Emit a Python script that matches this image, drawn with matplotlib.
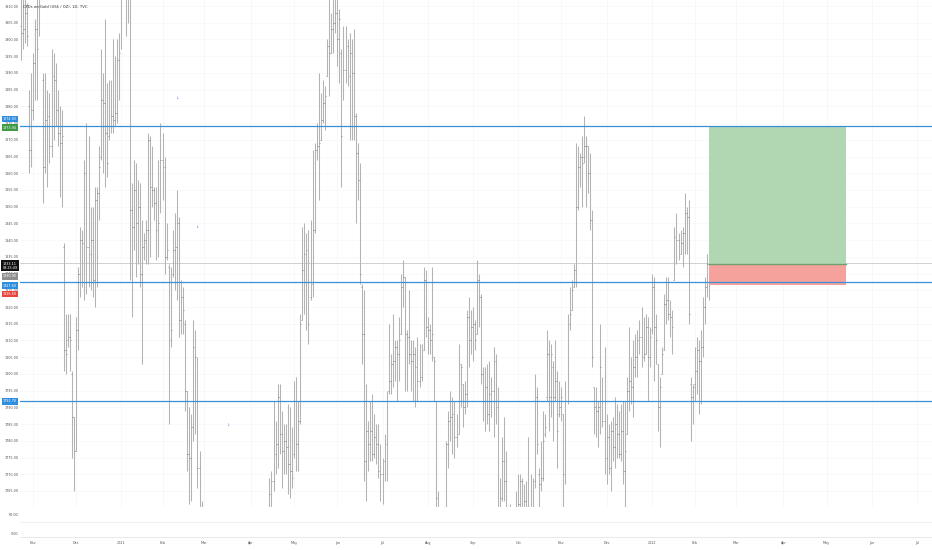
import numpy as np
import pandas as pd
import matplotlib
matplotlib.use("Agg")
import matplotlib.pyplot as plt
from matplotlib.collections import LineCollection
from matplotlib.patches import Rectangle

# -----------------------------
# daily bars (open, high, low, close)
# -----------------------------
oct20 = [(1904, 1916, 1894, 1902), (1902, 1914, 1897, 1903), (1903, 1912, 1899, 1908),
         (1908, 1911, 1898, 1901), (1880, 1885, 1860, 1867), (1867, 1890, 1862, 1879)]
nov20 = [(1879, 1896, 1876, 1893), (1893, 1906, 1882, 1903), (1903, 1915, 1882, 1897),
         (1910, 1950, 1901, 1947), (1947, 1965, 1936, 1951), (1888, 1890, 1851, 1862),
         (1862, 1890, 1860, 1876), (1876, 1885, 1856, 1877), (1877, 1884, 1863, 1868),
         (1868, 1897, 1865, 1889), (1889, 1896, 1870, 1888), (1888, 1893, 1874, 1879),
         (1879, 1885, 1868, 1872), (1872, 1880, 1853, 1869), (1869, 1879, 1850, 1871),
         (1838, 1839, 1801, 1807), (1807, 1818, 1800, 1806), (1810, 1818, 1808, 1811),
         (1811, 1818, 1801, 1810), (1800, 1801, 1775, 1787), (1787, 1787, 1765, 1777)]
dec20 = [(1777, 1817, 1777, 1813), (1813, 1832, 1807, 1830), (1830, 1844, 1823, 1840),
         (1840, 1843, 1826, 1839), (1839, 1864, 1822, 1860), (1860, 1875, 1824, 1838),
         (1838, 1871, 1826, 1836), (1836, 1850, 1825, 1840), (1840, 1850, 1823, 1828),
         (1828, 1856, 1820, 1852), (1852, 1856, 1826, 1854), (1854, 1868, 1846, 1862),
         (1865, 1897, 1864, 1882), (1882, 1890, 1860, 1881), (1881, 1906, 1856, 1872),
         (1872, 1887, 1859, 1863), (1871, 1888, 1870, 1874), (1874, 1888, 1872, 1877),
         (1877, 1900, 1872, 1876), (1876, 1895, 1874, 1878), (1878, 1900, 1875, 1894),
         (1894, 1902, 1882, 1896)]
jan21 = [(1898, 1945, 1897, 1942), (1942, 1952, 1935, 1949), (1949, 1959, 1901, 1918),
         (1918, 1926, 1905, 1913), (1913, 1917, 1828, 1849), (1849, 1857, 1817, 1844),
         (1844, 1864, 1837, 1855), (1855, 1863, 1829, 1845), (1845, 1858, 1833, 1850),
         (1850, 1857, 1826, 1830), (1830, 1846, 1803, 1838), (1838, 1842, 1834, 1840),
         (1840, 1846, 1833, 1843), (1843, 1872, 1833, 1870), (1870, 1871, 1835, 1856),
         (1856, 1868, 1850, 1855), (1855, 1856, 1846, 1851), (1851, 1856, 1834, 1843),
         (1843, 1864, 1835, 1845), (1850, 1875, 1848, 1864)]
feb21 = [(1864, 1872, 1852, 1862), (1862, 1865, 1830, 1835), (1835, 1845, 1834, 1837),
         (1832, 1833, 1785, 1792), (1810, 1832, 1808, 1813), (1830, 1843, 1829, 1837),
         (1837, 1848, 1825, 1838), (1838, 1855, 1822, 1845), (1845, 1847, 1811, 1816),
         (1816, 1828, 1812, 1823), (1823, 1826, 1812, 1819), (1815, 1816, 1789, 1795),
         (1795, 1795, 1771, 1776), (1776, 1790, 1761, 1775), (1775, 1788, 1762, 1784),
         (1784, 1816, 1780, 1808), (1808, 1813, 1782, 1805), (1797, 1805, 1766, 1772),
         (1772, 1777, 1750, 1757), (1757, 1762, 1717, 1734)]
mar21 = [(1734, 1760, 1718, 1723), (1723, 1740, 1705, 1737), (1737, 1739, 1709, 1715),
         (1715, 1725, 1697, 1699), (1699, 1709, 1687, 1700), (1700, 1709, 1676, 1683),
         (1683, 1718, 1683, 1716), (1716, 1724, 1705, 1715), (1715, 1739, 1712, 1722),
         (1722, 1728, 1699, 1719), (1719, 1733, 1715, 1731), (1731, 1741, 1723, 1731),
         (1731, 1755, 1720, 1745), (1745, 1755, 1728, 1735), (1735, 1747, 1726, 1745),
         (1745, 1745, 1727, 1739), (1739, 1745, 1720, 1727), (1727, 1738, 1722, 1734),
         (1734, 1737, 1719, 1725), (1725, 1737, 1720, 1732), (1732, 1733, 1704, 1711),
         (1711, 1712, 1677, 1684), (1684, 1715, 1678, 1708)]
apr21 = [(1708, 1733, 1705, 1728), (1728, 1740, 1720, 1729), (1729, 1745, 1726, 1743),
         (1743, 1749, 1733, 1737), (1737, 1758, 1735, 1755), (1755, 1756, 1732, 1744),
         (1744, 1746, 1726, 1732), (1732, 1748, 1728, 1746), (1746, 1749, 1735, 1736),
         (1736, 1769, 1735, 1764), (1764, 1771, 1758, 1768), (1768, 1792, 1765, 1776),
         (1776, 1786, 1770, 1779), (1779, 1797, 1772, 1793), (1793, 1797, 1776, 1782),
         (1782, 1789, 1766, 1777), (1777, 1785, 1770, 1780), (1780, 1785, 1770, 1778),
         (1778, 1791, 1764, 1773), (1773, 1790, 1763, 1771), (1771, 1784, 1766, 1769)]
may21 = [(1776, 1798, 1775, 1792), (1792, 1799, 1771, 1779), (1779, 1792, 1771, 1786),
         (1786, 1818, 1785, 1815), (1816, 1844, 1816, 1831), (1831, 1845, 1818, 1836),
         (1836, 1842, 1813, 1837), (1837, 1843, 1809, 1815), (1823, 1846, 1822, 1827),
         (1827, 1867, 1823, 1843), (1843, 1869, 1842, 1867), (1867, 1875, 1864, 1868),
         (1868, 1890, 1852, 1869), (1870, 1884, 1870, 1876), (1876, 1888, 1875, 1881),
         (1881, 1886, 1873, 1883), (1889, 1900, 1889, 1898), (1898, 1913, 1883, 1896),
         (1896, 1908, 1896, 1903), (1903, 1912, 1896, 1905), (1905, 1916, 1902, 1908)]
jun21 = [(1908, 1916, 1892, 1900), (1900, 1909, 1887, 1906), (1896, 1897, 1856, 1871),
         (1882, 1904, 1882, 1891), (1891, 1904, 1887, 1898), (1898, 1900, 1886, 1889),
         (1889, 1902, 1870, 1896), (1896, 1900, 1870, 1890), (1890, 1903, 1870, 1877),
         (1877, 1878, 1845, 1866), (1866, 1869, 1852, 1858), (1858, 1863, 1827, 1830),
         (1826, 1827, 1803, 1812), (1812, 1825, 1768, 1774), (1774, 1797, 1762, 1783),
         (1783, 1786, 1771, 1779), (1779, 1792, 1774, 1783), (1783, 1794, 1774, 1776),
         (1776, 1788, 1775, 1781), (1781, 1785, 1773, 1779), (1779, 1785, 1769, 1771),
         (1771, 1779, 1762, 1770)]
jul21 = [(1770, 1775, 1761, 1774), (1774, 1782, 1768, 1779), (1779, 1795, 1768, 1792),
         (1795, 1815, 1794, 1798), (1798, 1806, 1794, 1803), (1803, 1818, 1796, 1804),
         (1804, 1810, 1798, 1808), (1808, 1810, 1792, 1806), (1806, 1817, 1798, 1810),
         (1812, 1830, 1812, 1826), (1826, 1834, 1820, 1829), (1829, 1829, 1795, 1812),
         (1812, 1813, 1795, 1811), (1811, 1825, 1803, 1806), (1806, 1810, 1795, 1804),
         (1804, 1810, 1792, 1806), (1806, 1808, 1790, 1802), (1802, 1811, 1792, 1798),
         (1798, 1809, 1796, 1799), (1799, 1809, 1798, 1806), (1807, 1832, 1807, 1828),
         (1828, 1831, 1811, 1814)]
aug21 = [(1814, 1817, 1806, 1813), (1813, 1815, 1806, 1810), (1810, 1832, 1804, 1812),
         (1805, 1805, 1792, 1804), (1792, 1792, 1755, 1763), (1745, 1765, 1687, 1730),
         (1730, 1745, 1717, 1730), (1730, 1755, 1718, 1752), (1752, 1760, 1745, 1753),
         (1753, 1780, 1750, 1779), (1779, 1789, 1772, 1786), (1786, 1795, 1780, 1787),
         (1787, 1793, 1776, 1788), (1788, 1792, 1775, 1781), (1781, 1788, 1778, 1782),
         (1782, 1809, 1782, 1805), (1803, 1803, 1790, 1802), (1797, 1797, 1784, 1790),
         (1790, 1798, 1788, 1794), (1794, 1819, 1790, 1817), (1817, 1823, 1802, 1810),
         (1810, 1819, 1806, 1814)]
sep21 = [(1814, 1820, 1804, 1815), (1815, 1816, 1807, 1810), (1812, 1834, 1812, 1828),
         (1828, 1830, 1814, 1823), (1823, 1824, 1797, 1800), (1800, 1802, 1786, 1792),
         (1792, 1802, 1783, 1796), (1796, 1803, 1785, 1788), (1788, 1804, 1783, 1794),
         (1794, 1799, 1787, 1795), (1795, 1808, 1781, 1804), (1804, 1806, 1785, 1790),
         (1790, 1796, 1745, 1754), (1754, 1769, 1745, 1763), (1763, 1781, 1762, 1774),
         (1774, 1787, 1762, 1768), (1768, 1777, 1738, 1743), (1743, 1760, 1737, 1750),
         (1750, 1761, 1740, 1751), (1751, 1752, 1728, 1735), (1735, 1745, 1722, 1727),
         (1727, 1765, 1721, 1757)]
oct21 = [(1757, 1770, 1750, 1761), (1761, 1770, 1755, 1768), (1768, 1769, 1746, 1760),
         (1760, 1767, 1746, 1762), (1762, 1768, 1752, 1756), (1756, 1781, 1750, 1757),
         (1757, 1770, 1750, 1754), (1754, 1769, 1748, 1760), (1768, 1800, 1766, 1793),
         (1793, 1796, 1776, 1779), (1770, 1772, 1755, 1767), (1767, 1780, 1765, 1769),
         (1769, 1789, 1768, 1780), (1782, 1788, 1781, 1784), (1793, 1813, 1792, 1806),
         (1806, 1810, 1783, 1793), (1793, 1809, 1787, 1806), (1802, 1804, 1780, 1793),
         (1793, 1810, 1792, 1798), (1798, 1801, 1772, 1783), (1788, 1798, 1787, 1790)]
nov21 = [(1790, 1796, 1786, 1793), (1788, 1788, 1758, 1770), (1770, 1798, 1767, 1792),
         (1792, 1818, 1791, 1815), (1815, 1826, 1813, 1818), (1819, 1828, 1819, 1825),
         (1826, 1833, 1826, 1831), (1831, 1869, 1826, 1850), (1850, 1868, 1849, 1862),
         (1862, 1866, 1856, 1865), (1865, 1871, 1850, 1863), (1865, 1877, 1863, 1868),
         (1868, 1871, 1850, 1868), (1868, 1868, 1854, 1860), (1860, 1866, 1843, 1846),
         (1846, 1849, 1802, 1805), (1796, 1796, 1782, 1790), (1790, 1796, 1781, 1789),
         (1789, 1792, 1778, 1790), (1790, 1815, 1782, 1802), (1799, 1799, 1784, 1786),
         (1786, 1808, 1770, 1775)]
dec21 = [(1775, 1788, 1767, 1781), (1781, 1785, 1770, 1772), (1772, 1786, 1765, 1783),
         (1783, 1787, 1774, 1778), (1778, 1793, 1772, 1785), (1785, 1791, 1775, 1782),
         (1782, 1789, 1775, 1776), (1776, 1791, 1774, 1783), (1783, 1792, 1767, 1771),
         (1771, 1792, 1753, 1777), (1782, 1799, 1782, 1795), (1795, 1814, 1789, 1798),
         (1798, 1805, 1791, 1796), (1796, 1810, 1787, 1802), (1802, 1812, 1799, 1805),
         (1805, 1813, 1799, 1810), (1810, 1816, 1806, 1811), (1811, 1820, 1802, 1805),
         (1805, 1817, 1804, 1806), (1806, 1818, 1806, 1814), (1814, 1817, 1792, 1805),
         (1805, 1814, 1802, 1811)]
jan22 = [(1813, 1830, 1812, 1826), (1826, 1829, 1798, 1814), (1814, 1818, 1803, 1810),
         (1803, 1803, 1783, 1790), (1790, 1799, 1778, 1796), (1800, 1808, 1800, 1806),
         (1807, 1824, 1807, 1821), (1821, 1829, 1815, 1822), (1822, 1829, 1816, 1818),
         (1818, 1822, 1811, 1817), (1817, 1819, 1806, 1814), (1828, 1844, 1828, 1841),
         (1841, 1848, 1833, 1840), (1840, 1842, 1834, 1836), (1836, 1843, 1836, 1839),
         (1839, 1844, 1832, 1842), (1842, 1854, 1836, 1848), (1848, 1850, 1836, 1847),
         (1847, 1852, 1815, 1818), (1797, 1799, 1780, 1793), (1793, 1797, 1785, 1796)]
feb22 = [(1797, 1808, 1792, 1801), (1801, 1811, 1794, 1807), (1807, 1810, 1788, 1804),
         (1804, 1813, 1791, 1808), (1808, 1823, 1805, 1820), (1820, 1829, 1815, 1826),
         (1826, 1836, 1823, 1833), (1833, 1838, 1822, 1833.11)]

holidays = ["2020-12-25", "2021-01-01", "2021-04-02", "2021-12-24"]

# drawn levels
h_lines = [1874.03, 1827.60, 1791.78]
last_price = 1833.11
countdown = "03:25:49"
entry, target, stop = 1832.9, 1873.94, 1826.6
pos_bars = (334.8, 401.4)
markers = [(76, 1882.5), (85.7, 1843.9), (100.8, 1784.7)]
title = "CFDs on Gold (US$ / OZ), 1D, TVC"
month_names = ["Jan", "Feb", "Mar", "Apr", "May", "Jun", "Jul", "Aug", "Sep", "Oct", "Nov", "Dec"]

# -----------------------------
# build arrays
# -----------------------------
bars = (oct20 + nov20 + dec20 + jan21 + feb21 + mar21 + apr21 + may21 + jun21 +
        jul21 + aug21 + sep21 + oct21 + nov21 + dec21 + jan22 + feb22)
o, h, l, c = np.array(bars, dtype=float).T
idx = np.arange(len(bars))

cal = pd.bdate_range("2020-10-23", "2022-07-29")
cal = cal[~cal.isin(pd.to_datetime(holidays))]
per = cal.to_period("M")
first = np.r_[0, np.nonzero(per[1:] != per[:-1])[0] + 1][1:]
tick_lab = [str(cal[k].year) if cal[k].month == 1 else month_names[cal[k].month - 1] for k in first]

# -----------------------------
# figure
# -----------------------------
W, H = 932, 550
fig = plt.figure(figsize=(W / 100, H / 100), dpi=100)
ax = fig.add_axes([20 / W, 43 / H, 912 / W, 507 / H])
ax2 = fig.add_axes([20 / W, 13 / H, 912 / W, 30 / H], sharex=ax)

ax.set_xlim(-0.34, 443.3)
ax.set_ylim(1760.2, 1911.8)

# faint grid
for k in first:
    ax.axvline(k, color="#f4f5f7", lw=0.5, zorder=0)
for yv in np.arange(1765, 1911, 5):
    ax.axhline(yv, color="#f6f7f9", lw=0.5, zorder=0)

# OHLC bars
vert = [[(i, lo), (i, hi)] for i, lo, hi in zip(idx, l, h)]
ot = [[(i - 0.45, op), (i, op)] for i, op in zip(idx, o)]
ct = [[(i, cl), (i + 0.45, cl)] for i, cl in zip(idx, c)]
ax.add_collection(LineCollection(vert, colors="#b3b3b3", linewidths=0.75, zorder=2))
ax.add_collection(LineCollection(ot + ct, colors="#8c8c8c", linewidths=0.6, zorder=2))

# current price line
ax.axhline(last_price, color="#c9c9c9", lw=0.6, zorder=1)

# long position box
ax.add_patch(Rectangle((pos_bars[0], entry), pos_bars[1] - pos_bars[0], target - entry,
                       facecolor="#b1d7b2", edgecolor="none", zorder=3))
ax.add_patch(Rectangle((pos_bars[0], stop), pos_bars[1] - pos_bars[0], entry - stop,
                       facecolor="#f5a29c", edgecolor="none", zorder=3))
ax.plot(pos_bars, [entry, entry], color="#6f9f73", lw=1.0, zorder=4)

# horizontal levels
for yv in h_lines:
    ax.axhline(yv, color="#3a8fd9", lw=0.9, zorder=4)

# small arrows
for mx, my in markers:
    ax.text(mx, my, "\u2193", fontsize=3.2, color="#7d80d6", ha="center", va="center", zorder=5)

ax.text(3 / 912, 1 - 7 / 507, title, transform=ax.transAxes, fontsize=2.7,
        color="#333333", va="center", ha="left", zorder=6)

# price scale
ax.set_yticks(np.arange(1765, 1911, 5))
ax.set_yticklabels(["%.2f" % v for v in np.arange(1765, 1911, 5)])
ax.tick_params(axis="y", labelsize=2.4, colors="#555555", length=0, pad=1.2)
ax.tick_params(axis="x", bottom=False, labelbottom=False)
for s in ax.spines.values():
    s.set_visible(False)
ax.spines["bottom"].set_visible(True)
ax.spines["bottom"].set_color("#e3e5ea")
ax.spines["bottom"].set_linewidth(0.6)

# coloured price labels on the scale
def tag(text, yv, fc, dy=0, fg="white"):
    ax.annotate(text, xy=(0, yv), xycoords=("axes fraction", "data"),
                xytext=(-10, dy), textcoords="offset pixels", ha="center", va="center",
                fontsize=2.4, color=fg, annotation_clip=False, zorder=10,
                bbox=dict(boxstyle="square,pad=0.35", fc=fc, ec="none"))

tag("%.2f" % h_lines[0], h_lines[0], "#2f8ee0", dy=7.5)
tag("%.2f" % target, target, "#3f9a45", dy=-1)
tag("%.2f\n%s" % (last_price, countdown), last_price, "#111111", dy=-2.8)
tag("1830.90", entry, "#8f8f8f", dy=-12.5)
tag("%.2f" % h_lines[1], h_lines[1], "#2f8ee0", dy=-4)
tag("%.2f" % stop, stop, "#e8453c", dy=-9)
tag("%.2f" % h_lines[2], h_lines[2], "#2f8ee0", dy=0)

# lower pane
ax2.set_ylim(-11.1, 72.2)
ax2.set_yticks([0, 50])
ax2.set_yticklabels(["0.00", "50.00"])
ax2.tick_params(axis="y", labelsize=2.4, colors="#555555", length=0, pad=1.2)
ax2.axhline(31.4, color="#eceef2", lw=0.6)
for s in ax2.spines.values():
    s.set_visible(False)
ax2.spines["bottom"].set_visible(True)
ax2.spines["bottom"].set_color("#e3e5ea")
ax2.spines["bottom"].set_linewidth(0.6)
ax2.set_xticks(first)
ax2.set_xticklabels(tick_lab)
ax2.tick_params(axis="x", labelsize=2.4, colors="#555555", length=0, pad=2.6)

fig.savefig("out.png", dpi=100)
